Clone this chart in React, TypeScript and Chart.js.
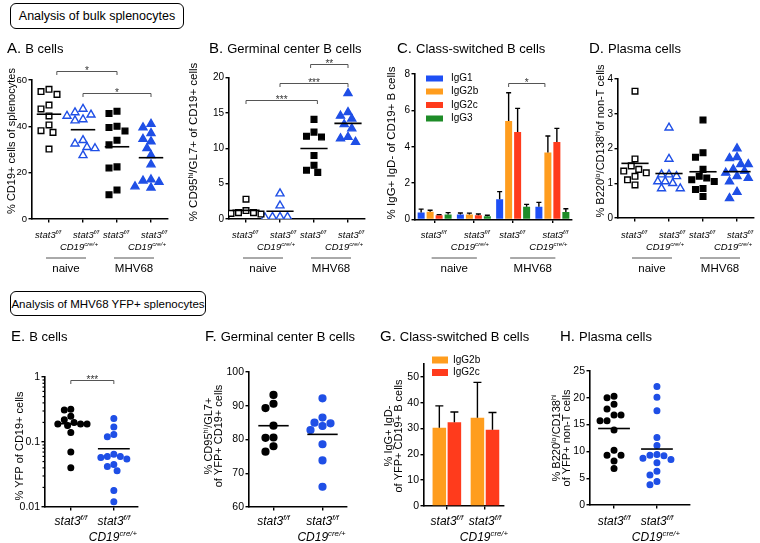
import React, { useEffect, useRef } from 'react';
import { Chart, registerables } from 'chart.js';

Chart.register(...registerables);

const W = 760;
const H = 543;
const FONT = '"Liberation Sans", Arial, Helvetica, sans-serif';
const BLUE = '#1f4fe6';

// ---------------- DATA ----------------
const groupNames = ['naive', 'MHV68'];

// A. B cells (% CD19+ of splenocytes)
const aNaiveFF = [56, 55, 53.8, 49.2, 47.5, 44.5, 40.6, 38.1, 37.4, 30.2];
const aNaiveCre = [47.5, 46, 45, 44.5, 43, 42.5, 34, 32.5, 31, 30.5, 27.5];
const aMhvFF = [46.5, 45.5, 40, 39.5, 38, 34, 32, 22.5, 22, 12.5, 10.5];
const aMhvCre = [41, 39.5, 37, 34.5, 33.5, 30.5, 27.5, 23.5, 17, 16.5, 16, 14, 13.5];
const aTicks = [0, 20, 40, 60];

// B. Germinal center B cells
const bNaiveFF = [2.8, 1.2, 0.9, 0.8, 0.9, 0.7];
const bNaiveCre = [3.6, 1.9, 0.3, 0.3, 0.2, 0.3];
const bMhvFF = [14.1, 12.3, 11.7, 11.6, 9.0, 7.6, 6.9, 6.6];
const bMhvCre = [17.8, 15.1, 14.6, 14.2, 13.4, 12.8, 11.6, 11.4, 10.9];
const bTicks = [0, 5, 10, 15, 20];

// C. Class-switched B cells (mean, upper SEM)
const cSeries = ['IgG1', 'IgG2b', 'IgG2c', 'IgG3'];
const cIgG1 = [0.38, 0.27, 1.11, 0.7];
const cIgG1Err = [0.19, 0.09, 0.42, 0.24];
const cIgG2b = [0.42, 0.27, 5.41, 3.69];
const cIgG2bErr = [0.09, 0.08, 1.56, 0.9];
const cIgG2c = [0.24, 0.24, 4.81, 4.26];
const cIgG2cErr = [0.03, 0.06, 1.3, 0.75];
const cIgG3 = [0.27, 0.18, 0.7, 0.41];
const cIgG3Err = [0.11, 0.05, 0.13, 0.18];
const cTicks = [0, 2, 4, 6, 8];

// D. Plasma cells
const dNaiveFF = [3.65, 1.7, 1.5, 1.4, 1.35, 1.3, 1.2, 1.1, 0.95];
const dNaiveCre = [2.6, 1.7, 1.25, 1.25, 1.2, 1.05, 1.05, 1.0, 0.85, 0.85];
const dMhvFF = [2.82, 1.88, 1.75, 1.4, 1.2, 1.15, 1.1, 1.05, 0.85, 0.82, 0.62];
const dMhvCre = [2.0, 1.75, 1.72, 1.55, 1.55, 1.4, 1.35, 1.3, 1.2, 1.15, 1.05, 0.75, 0.57];
const dTicks = [0, 1, 2, 3, 4];

// E. YFP+ B cells (log)
const eFF = [0.32, 0.31, 0.25, 0.22, 0.2, 0.19, 0.19, 0.19, 0.18, 0.14, 0.07, 0.04];
const eCre = [0.23, 0.17, 0.13, 0.12, 0.065, 0.06, 0.06, 0.058, 0.055, 0.045, 0.042, 0.036, 0.018, 0.012];
const eTicks = [0.01, 0.1, 1];

// F. YFP+ germinal center B cells
const fFF = [93.2, 90.6, 89.3, 84.1, 80.6, 80.5, 78.0, 76.4];
const fCre = [92.2, 86.5, 85.0, 84.8, 84.0, 82.8, 78.6, 73.8, 66.0];
const fTicks = [60, 70, 80, 90, 100];

// G. YFP+ class-switched
const gSeries = ['IgG2b', 'IgG2c'];
const gIgG2b = [30.3, 34.2];
const gIgG2bErr = [8.5, 13.7];
const gIgG2c = [32.4, 29.5];
const gIgG2cErr = [4.0, 6.7];
const gTicks = [0, 10, 20, 30, 40, 50];

// H. YFP+ plasma cells
const hFF = [20.3, 20.0, 18.8, 17.9, 16.8, 16.8, 15.7, 15.7, 14.0, 10.2, 9.3, 9.3, 8.2, 6.8];
const hCre = [22.1, 20.1, 17.6, 12.6, 11.1, 9.4, 9.3, 9.2, 8.7, 8.5, 7.9, 6.3, 5.6, 4.4, 3.8];
const hTicks = [0, 5, 10, 15, 20, 25];

// significance brackets: [from category, to category, value level, label]
const aSig = [[1.23, 3, 64, '*'], [2, 4, 54.2, '*']];
const bSig = [[1, 3.1, 16.8, '***'], [2, 4, 19.3, '***'], [2.9, 4, 21.9, '**']];
const cSig = [[2.885, 3.81, 7.5, '*']];
const eSig = [[1, 2, 0.9, '***']];

// ---------------- TEXT ----------------
type Seg = { t: string; sup?: boolean };
const FF: Seg[] = [{ t: 'stat3' }, { t: 'f/f', sup: true }];
const CRE: Seg[] = [{ t: 'CD19' }, { t: 'cre/+', sup: true }];
const catLabels4 = [[FF], [FF, CRE], [FF], [FF, CRE]];
const catLabels2 = [[FF], [FF, CRE]];

const yTitleA: Seg[][] = [[{ t: '% CD19+ cells of splenocytes' }]];
const yTitleB: Seg[][] = [[{ t: '% CD95' }, { t: 'hi', sup: true }, { t: '/GL7+ of CD19+ cells' }]];
const yTitleC: Seg[][] = [[{ t: '% IgG+ IgD- of CD19+ B cells' }]];
const yTitleD: Seg[][] = [[{ t: '% B220' }, { t: 'lo', sup: true }, { t: '/CD138' }, { t: 'hi', sup: true }, { t: 'of non-T cells' }]];
const yTitleE: Seg[][] = [[{ t: '% YFP of CD19+ cells' }]];
const yTitleF: Seg[][] = [[{ t: '% CD95' }, { t: 'hi', sup: true }, { t: '/GL7+' }], [{ t: 'of YFP+ CD19+ cells' }]];
const yTitleG: Seg[][] = [[{ t: '% IgG+ IgD-' }], [{ t: 'of YFP+ CD19+ B cells' }]];
const yTitleH: Seg[][] = [[{ t: '% B220' }, { t: 'lo', sup: true }, { t: '/CD138' }, { t: 'hi', sup: true }], [{ t: 'of YFP+ non-T cells' }]];

// ---------------- STYLES / LAYOUT ----------------
const STY4 = [
  { shape: 'rect', r: 4, color: '#000', fill: false },
  { shape: 'triangle', r: 4.6, color: BLUE, fill: false },
  { shape: 'rect', r: 4, color: '#000', fill: true },
  { shape: 'triangle', r: 4.6, color: BLUE, fill: true },
];
const circ = (r: number) => [
  { shape: 'circle', r, color: '#000', fill: true },
  { shape: 'circle', r, color: BLUE, fill: true },
];
const C_COLORS = ['#1e4ff5', '#ff9d1e', '#ff3b1c', '#1e8c28'];
const G_COLORS = ['#ff9d1e', '#ff3b1c'];

const TOP_LAB = { catFont: 9.5, catY: [238, 250], catShift1: -1, catShift2: [3, -4], groupLineY: 258, groupTextY: 272 };
const BOT_LAB = { catFont: 12, catY: [525, 541], catShift1: 0, catShift2: [0, -1] };

const panels: any[] = [
  {
    kind: 'scatter', area: { l: 32, t: 80, r: 168, b: 219 }, xMin: 0.5, xMax: 4.5, cats: [1, 2, 3, 4],
    yMin: 0, yMax: 60, yTicks: aTicks, tickSize: 9.5, groups: [aNaiveFF, aNaiveCre, aMhvFF, aMhvCre], styles: STY4,
    diam: 8, meanHalf: 0.36, title: ['A.', 'B cells'], titlePos: [7, 53], yTitle: yTitleA, yTitlePos: [11.5, 141], yTitleSize: 11,
    catLabels: catLabels4, ...TOP_LAB, groupSpans: [[1, 2], [3, 4]], sig: aSig,
  },
  {
    kind: 'scatter', area: { l: 229, t: 77.7, r: 365, b: 219 }, xMin: 0.5, xMax: 4.5, cats: [1, 2, 3, 4],
    yMin: 0, yMax: 20, yTicks: bTicks, tickSize: 10, groups: [bNaiveFF, bNaiveCre, bMhvFF, bMhvCre], styles: STY4,
    diam: 7.5, meanHalf: 0.4, title: ['B.', 'Germinal center B cells'], titlePos: [209, 53], yTitle: yTitleB, yTitlePos: [193, 142], yTitleSize: 11.5,
    catLabels: catLabels4, ...TOP_LAB, groupSpans: [[1, 2], [3, 4]], sig: bSig,
  },
  {
    kind: 'bar', area: { l: 415, t: 74, r: 572, b: 219.5 }, xMin: 0.5, xMax: 4.5, cats: [1, 2, 3, 4],
    yMin: 0, yMax: 8, yTicks: cTicks, tickSize: 10, catPct: 0.916, barPct: 0.78, capW: 5,
    bars: [
      { label: cSeries[0], values: cIgG1, errors: cIgG1Err, color: C_COLORS[0] },
      { label: cSeries[1], values: cIgG2b, errors: cIgG2bErr, color: C_COLORS[1] },
      { label: cSeries[2], values: cIgG2c, errors: cIgG2cErr, color: C_COLORS[2] },
      { label: cSeries[3], values: cIgG3, errors: cIgG3Err, color: C_COLORS[3] },
    ],
    legend: { x: 426, w: 17, h: 6, tx: 451, ys: [78.5, 91.5, 105, 118.5], size: 10 },
    title: ['C.', 'Class-switched B cells'], titlePos: [397, 53], yTitle: yTitleC, yTitlePos: [391, 143], yTitleSize: 11.5,
    catLabels: catLabels4, ...TOP_LAB, groupSpans: [[1, 2], [3, 4]], sig: cSig,
  },
  {
    kind: 'scatter', area: { l: 618, t: 79, r: 754, b: 218 }, xMin: 0.5, xMax: 4.5, cats: [1, 2, 3, 4],
    yMin: 0, yMax: 4, yTicks: dTicks, tickSize: 10, groups: [dNaiveFF, dNaiveCre, dMhvFF, dMhvCre], styles: STY4,
    diam: 7.5, meanHalf: 0.4, title: ['D.', 'Plasma cells'], titlePos: [589, 53], yTitle: yTitleD, yTitlePos: [600, 141], yTitleSize: 11,
    catLabels: catLabels4, ...TOP_LAB, groupSpans: [[1, 2], [3, 4]], sig: [],
  },
  {
    kind: 'scatter', log: true, area: { l: 45, t: 377, r: 137.5, b: 507 }, xMin: 0.4, xMax: 2.55, cats: [1, 2],
    yMin: 0.01, yMax: 1, yTicks: eTicks, tickSize: 10.5, groups: [eFF, eCre], styles: circ(2.8),
    diam: 6.5, meanHalf: 0.37, title: ['E.', 'B cells'], titlePos: [11, 341], yTitle: yTitleE, yTitlePos: [19, 446], yTitleSize: 11,
    catLabels: catLabels2, ...BOT_LAB, sig: eSig,
  },
  {
    kind: 'scatter', area: { l: 249, t: 372, r: 347, b: 507 }, xMin: 0.5, xMax: 2.5, cats: [1, 2],
    yMin: 60, yMax: 100, yTicks: fTicks, tickSize: 10.5, groups: [fFF, fCre], styles: circ(3.4),
    diam: 8, meanHalf: 0.31, title: ['F.', 'Germinal center B cells'], titlePos: [205, 341], yTitle: yTitleF, yTitlePos: [208, 436], yTitleSize: 11,
    catLabels: catLabels2, ...BOT_LAB, sig: [],
  },
  {
    kind: 'bar', area: { l: 424, t: 364, r: 504, b: 506 }, xMin: 0.4, xMax: 2.5, cats: [1, 2],
    yMin: 0, yMax: 55, yTicks: gTicks, tickSize: 10.5, catPct: 0.79, barPct: 0.9, capW: 8,
    bars: [
      { label: gSeries[0], values: gIgG2b, errors: gIgG2bErr, color: G_COLORS[0] },
      { label: gSeries[1], values: gIgG2c, errors: gIgG2cErr, color: G_COLORS[1] },
    ],
    legend: { x: 432, w: 16, h: 7, tx: 453, ys: [360, 372.5], size: 10 },
    title: ['G.', 'Class-switched B cells'], titlePos: [380, 341], yTitle: yTitleG, yTitlePos: [388, 436], yTitleSize: 11,
    catLabels: catLabels2, ...BOT_LAB, sig: [],
  },
  {
    kind: 'scatter', area: { l: 590, t: 371, r: 690, b: 505 }, xMin: 0.44, xMax: 2.77, cats: [1, 2],
    yMin: 0, yMax: 25, yTicks: hTicks, tickSize: 10.5, groups: [hFF, hCre], styles: circ(2.8),
    diam: 7, meanHalf: 0.37, title: ['H.', 'Plasma cells'], titlePos: [560, 341], yTitle: yTitleH, yTitlePos: [556, 438], yTitleSize: 11,
    catLabels: catLabels2, ...BOT_LAB, sig: [],
  },
];

// ---------------- HELPERS ----------------
function segFont(size: number, italic: boolean, sup?: boolean) {
  const s = sup ? Math.round(size * 0.65 * 10) / 10 : size;
  return `${italic ? 'italic ' : ''}${s}px ${FONT}`;
}
function drawRich(ctx: CanvasRenderingContext2D, segs: Seg[], x: number, y: number, size: number, italic: boolean, align = 'center') {
  let w = 0;
  for (const s of segs) {
    ctx.font = segFont(size, italic, s.sup);
    w += ctx.measureText(s.t).width;
  }
  let cx = align === 'center' ? x - w / 2 : align === 'right' ? x - w : x;
  ctx.textAlign = 'left';
  ctx.textBaseline = 'alphabetic';
  for (const s of segs) {
    ctx.font = segFont(size, italic, s.sup);
    ctx.fillText(s.t, cx, s.sup ? y - size * 0.4 : y);
    cx += ctx.measureText(s.t).width;
  }
}

function swarm(vals: number[], toPx: (v: number) => number, diam: number, spacing: number) {
  const idx = vals.map((_, i) => i).sort((a, b) => vals[b] - vals[a]);
  const placed: { x: number; y: number }[] = [];
  const out = new Array(vals.length).fill(0);
  for (const i of idx) {
    const y = toPx(vals[i]);
    let chosen = 0;
    for (let k = 0; k < 40; k++) {
      const cand = k === 0 ? 0 : (k % 2 ? -1 : 1) * Math.ceil(k / 2) * (diam / 2);
      const ok = placed.every((p) => Math.hypot(p.x - cand, p.y - y) >= diam * 0.98);
      if (ok) { chosen = cand; break; }
    }
    placed.push({ x: chosen, y });
    out[i] = chosen / spacing;
  }
  return out;
}

function drawAnnotations(chart: any, p: any) {
  const ctx: CanvasRenderingContext2D = chart.ctx;
  const xs = chart.scales.x;
  const ys = chart.scales.y;
  const a = p.area;
  ctx.save();
  ctx.fillStyle = '#000';
  ctx.strokeStyle = '#000';

  // error bars
  if (p.kind === 'bar') {
    ctx.lineWidth = 1.4;
    p.bars.forEach((b: any, di: number) => {
      const meta = chart.getDatasetMeta(di);
      meta.data.forEach((el: any, j: number) => {
        const top = ys.getPixelForValue(b.values[j] + b.errors[j]);
        ctx.beginPath();
        ctx.moveTo(el.x, el.y);
        ctx.lineTo(el.x, top);
        ctx.moveTo(el.x - p.capW / 2, top);
        ctx.lineTo(el.x + p.capW / 2, top);
        ctx.stroke();
      });
    });
  }

  // log minor ticks
  if (p.log) {
    ctx.lineWidth = 1.2;
    for (let d = Math.log10(p.yMin); d < Math.log10(p.yMax); d++) {
      for (let m = 2; m < 10; m++) {
        const yy = ys.getPixelForValue(m * Math.pow(10, d));
        ctx.beginPath();
        ctx.moveTo(a.l, yy);
        ctx.lineTo(a.l - 2.5, yy);
        ctx.stroke();
      }
    }
  }

  // panel title
  ctx.textAlign = 'left';
  ctx.textBaseline = 'alphabetic';
  ctx.font = `15px ${FONT}`;
  ctx.fillText(p.title[0], p.titlePos[0], p.titlePos[1]);
  const w0 = ctx.measureText(p.title[0]).width + 4;
  ctx.font = `13px ${FONT}`;
  ctx.fillText(p.title[1], p.titlePos[0] + w0, p.titlePos[1]);

  // y title
  p.yTitle.forEach((line: Seg[], i: number) => {
    ctx.save();
    ctx.translate(p.yTitlePos[0] + i * 10.5, p.yTitlePos[1]);
    ctx.rotate(-Math.PI / 2);
    drawRich(ctx, line, 0, p.yTitleSize * 0.36, p.yTitleSize, false, 'center');
    ctx.restore();
  });

  // category labels
  p.catLabels.forEach((lines: Seg[][], ci: number) => {
    const cx = xs.getPixelForValue(p.cats[ci]);
    lines.forEach((line, li) => {
      const shift = lines.length === 1 ? p.catShift1 : p.catShift2[li];
      drawRich(ctx, line, cx + shift, p.catY[li], p.catFont, true, 'center');
    });
  });

  // group labels
  if (p.groupSpans) {
    p.groupSpans.forEach((sp: number[], gi: number) => {
      const x1 = xs.getPixelForValue(sp[0]) - 3;
      const x2 = xs.getPixelForValue(sp[1]) + 3;
      ctx.strokeStyle = '#555';
      ctx.lineWidth = 1;
      ctx.beginPath();
      ctx.moveTo(x1, p.groupLineY);
      ctx.lineTo(x2, p.groupLineY);
      ctx.stroke();
      ctx.fillStyle = '#000';
      ctx.font = `11.5px ${FONT}`;
      ctx.textAlign = 'center';
      ctx.fillText(groupNames[gi], (x1 + x2) / 2, p.groupTextY);
    });
  }

  // significance brackets
  p.sig.forEach((s: any[]) => {
    const x1 = xs.getPixelForValue(s[0]);
    const x2 = xs.getPixelForValue(s[1]);
    const yy = Math.round(ys.getPixelForValue(s[2])) + 0.5;
    ctx.strokeStyle = '#555';
    ctx.lineWidth = 1;
    ctx.beginPath();
    ctx.moveTo(x1, yy + 3.5);
    ctx.lineTo(x1, yy);
    ctx.lineTo(x2, yy);
    ctx.lineTo(x2, yy + 3.5);
    ctx.stroke();
    ctx.fillStyle = '#333';
    ctx.font = `10px ${FONT}`;
    ctx.textAlign = 'center';
    ctx.fillText(s[3], (x1 + x2) / 2, yy + 2);
  });

  // legend
  if (p.legend) {
    const L = p.legend;
    p.bars.forEach((b: any, i: number) => {
      ctx.fillStyle = b.color;
      ctx.fillRect(L.x, L.ys[i] - L.h / 2, L.w, L.h);
      ctx.fillStyle = '#000';
      ctx.font = `${L.size}px ${FONT}`;
      ctx.textAlign = 'left';
      ctx.textBaseline = 'middle';
      ctx.fillText(b.label, L.tx, L.ys[i]);
    });
  }
  ctx.restore();
}

const YW = 40;
const XH = 6;

function buildConfig(p: any) {
  const a = p.area;
  const spacing = (a.r - a.l) / (p.xMax - p.xMin);
  const toPx = (v: number) =>
    p.log
      ? a.b - ((Math.log10(v) - Math.log10(p.yMin)) / (Math.log10(p.yMax) - Math.log10(p.yMin))) * (a.b - a.t)
      : a.b - ((v - p.yMin) / (p.yMax - p.yMin)) * (a.b - a.t);

  const datasets: any[] = [];
  if (p.kind === 'scatter') {
    p.groups.forEach((vals: number[], gi: number) => {
      const cat = p.cats[gi];
      const st = p.styles[gi];
      const offs = swarm(vals, toPx, p.diam, spacing);
      datasets.push({
        data: vals.map((v, i) => ({ x: cat + offs[i], y: v })),
        pointStyle: st.shape,
        pointRadius: st.r,
        pointBorderWidth: 1.4,
        pointBackgroundColor: st.fill ? st.color : '#ffffff',
        pointBorderColor: st.color,
        showLine: false,
        order: 1,
      });
      const m = vals.reduce((s, v) => s + v, 0) / vals.length;
      datasets.push({
        data: [{ x: cat - p.meanHalf, y: m }, { x: cat + p.meanHalf, y: m }],
        showLine: true,
        borderColor: '#000',
        borderWidth: 1.6,
        pointRadius: 0,
        order: 0,
      });
    });
  } else {
    p.bars.forEach((b: any) => {
      datasets.push({
        label: b.label,
        data: b.values.map((v: number, i: number) => ({ x: p.cats[i], y: v })),
        backgroundColor: b.color,
        borderWidth: 0,
        categoryPercentage: p.catPct,
        barPercentage: p.barPct,
      });
    });
  }

  const axisGrid = { drawOnChartArea: false, drawTicks: true, tickLength: 3.5, color: '#000', lineWidth: 1.4 };
  const axisBorder = { display: true, color: '#000', width: 1.6 };

  return {
    type: p.kind === 'bar' ? 'bar' : 'scatter',
    data: { datasets },
    options: {
      responsive: false,
      animation: false,
      events: [],
      layout: { padding: { left: a.l - YW, top: a.t, right: W - a.r, bottom: H - a.b - XH } },
      plugins: { legend: { display: false }, tooltip: { enabled: false }, title: { display: false } },
      scales: {
        x: {
          type: 'linear',
          min: p.xMin,
          max: p.xMax,
          offset: false,
          afterBuildTicks: (s: any) => { s.ticks = p.cats.map((v: number) => ({ value: v })); },
          afterFit: (s: any) => { s.height = XH; },
          ticks: { display: false },
          grid: { ...axisGrid, offset: false },
          border: axisBorder,
        },
        y: {
          type: p.log ? 'logarithmic' : 'linear',
          min: p.yMin,
          max: p.yMax,
          afterBuildTicks: (s: any) => { s.ticks = p.yTicks.map((v: number) => ({ value: v })); },
          afterFit: (s: any) => { s.width = YW; },
          ticks: {
            color: '#000',
            padding: 1.5,
            font: { family: FONT, size: p.tickSize },
            callback: (v: any) => String(v),
          },
          grid: axisGrid,
          border: axisBorder,
        },
      },
    },
    plugins: [{ id: 'annot' + p.title[0], afterDraw: (chart: any) => drawAnnotations(chart, p) }],
  };
}

function PanelCanvas({ p }: { p: any }) {
  const ref = useRef<HTMLCanvasElement>(null);
  useEffect(() => {
    if (!ref.current) return;
    const chart = new Chart(ref.current, buildConfig(p) as any);
    return () => chart.destroy();
  }, [p]);
  return (
    <canvas
      ref={ref}
      width={W}
      height={H}
      style={{ position: 'absolute', left: 0, top: 0, width: W, height: H }}
    />
  );
}

const boxStyle: React.CSSProperties = {
  position: 'absolute',
  boxSizing: 'border-box',
  border: '1.3px solid #000',
  borderRadius: 6,
  fontFamily: FONT,
  color: '#000',
  display: 'flex',
  alignItems: 'center',
  justifyContent: 'center',
  whiteSpace: 'nowrap',
};

export default function App() {
  return (
    <div style={{ position: 'absolute', left: 0, top: 0, width: W, height: H, background: '#fff', overflow: 'hidden' }}>
      <div style={{ ...boxStyle, left: 10, top: 3, width: 174, height: 26, fontSize: 12.5 }}>Analysis of bulk splenocytes</div>
      <div style={{ ...boxStyle, left: 10, top: 291, width: 196, height: 25, fontSize: 11.5 }}>Analysis of MHV68 YFP+ splenocytes</div>
      {panels.map((p, i) => (
        <PanelCanvas key={i} p={p} />
      ))}
    </div>
  );
}
